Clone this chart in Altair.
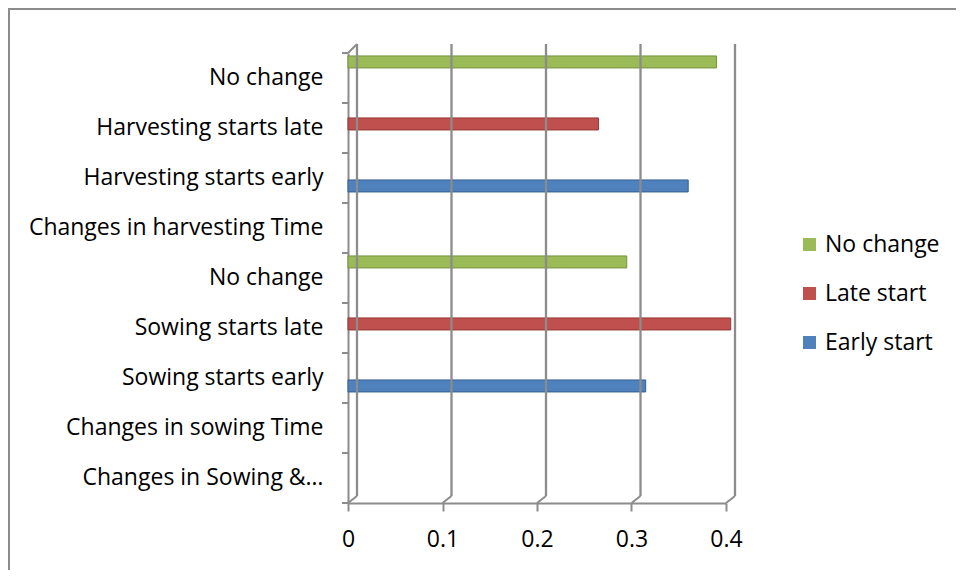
import altair as alt
import pandas as pd

# ---- data ----
categories = [
    "No change|H",
    "Harvesting starts late",
    "Harvesting starts early",
    "Changes in harvesting Time",
    "No change|S",
    "Sowing starts late",
    "Sowing starts early",
    "Changes in sowing Time",
    "Changes in Sowing &…",
]
bar_cats = ["No change|H", "Harvesting starts late", "Harvesting starts early",
            "No change|S", "Sowing starts late", "Sowing starts early"]
bar_series = ["No change", "Late start", "Early start",
              "No change", "Late start", "Early start"]
bar_values = [0.39, 0.265, 0.36, 0.295, 0.405, 0.315]

series_order = ["No change", "Late start", "Early start"]
series_colors = ["#9BBB59", "#C0504D", "#4F81BD"]
series_edges = ["#76923C", "#943634", "#365F91"]
x_ticks = [0, 0.1, 0.2, 0.3, 0.4]

FONT = "Open Sans"
FS = 23
GRAY = "#8C8C8C"
W, H = 378, 450
PAD = {"left": 340, "top": 45, "right": 230, "bottom": 67}

bars_df = pd.DataFrame({"cat": bar_cats, "series": bar_series, "value": bar_values})
ticks_df = pd.DataFrame({"value": x_ticks})
cats_df = pd.DataFrame({"cat": categories})
one = pd.DataFrame({"a": [0]})

xscale = alt.Scale(domain=[0, 0.4], nice=False, zero=True)
yscale = alt.Scale(domain=categories, paddingInner=0, paddingOuter=0)

xaxis = alt.Axis(values=x_ticks, format="~g", title=None, grid=False,
                 domainColor=GRAY, domainWidth=2, tickColor=GRAY,
                 tickWidth=2, tickSize=8, labelPadding=17, labelFlush=False,
                 labelFont=FONT, labelFontSize=FS, labelColor="#000000")
yaxis = alt.Axis(title=None, ticks=False, grid=False, domainColor=GRAY,
                 domainWidth=2, labelPadding=25, labelLimit=400,
                 labelFont=FONT, labelFontSize=FS, labelColor="#000000",
                 labelExpr="split(datum.label, '|')[0]")

X = alt.X("value:Q", scale=xscale, axis=xaxis)

frame = alt.Chart(one).mark_rect(filled=False, stroke=GRAY, strokeWidth=2).encode(
    x=alt.value(-PAD["left"] + 1), x2=alt.value(W + PAD["right"] + 10),
    y=alt.value(-PAD["top"] + 1), y2=alt.value(H + PAD["bottom"] + 10),
)

grid = alt.Chart(ticks_df).mark_rule(color=GRAY, strokeWidth=2.3, xOffset=9).encode(
    x=X, y=alt.value(-9), y2=alt.value(H - 7),
)

diag = alt.Chart(ticks_df).mark_rule(color=GRAY, strokeWidth=2, x2Offset=9).encode(
    x=X, x2="value:Q", y=alt.value(H), y2=alt.value(H - 7),
)

topdiag = alt.Chart(one).mark_rule(color=GRAY, strokeWidth=2).encode(
    x=alt.value(0), x2=alt.value(9), y=alt.value(0), y2=alt.value(-9),
)

yticks = alt.Chart(cats_df).mark_rule(color=GRAY, strokeWidth=2).encode(
    y=alt.Y("cat:N", scale=yscale, bandPosition=0, axis=yaxis),
    x=alt.value(-6), x2=alt.value(0),
)
ybottom = alt.Chart(one).mark_rule(color=GRAY, strokeWidth=2).encode(
    y=alt.value(H), x=alt.value(-6), x2=alt.value(0),
)

bars = alt.Chart(bars_df).mark_bar(strokeWidth=1).encode(
    x=X,
    y=alt.Y("cat:N", scale=yscale, axis=yaxis),
    yOffset=alt.YOffset("series:N",
                        scale=alt.Scale(domain=series_order, paddingInner=0,
                                        paddingOuter=0.583, align=0.21)),
    color=alt.Color("series:N",
                    scale=alt.Scale(domain=series_order, range=series_colors),
                    legend=alt.Legend(title=None, orient="none", legendX=450, legendY=180,
                                      symbolType="square", symbolSize=169,
                                      symbolStrokeWidth=0, labelFont=FONT,
                                      labelFontSize=FS, labelColor="#000000",
                                      rowPadding=25, labelOffset=4)),
    stroke=alt.Stroke("series:N",
                      scale=alt.Scale(domain=series_order, range=series_edges),
                      legend=None),
)

chart = alt.layer(bars, frame, grid, diag, topdiag, yticks, ybottom).properties(
    width=W, height=H, autosize=alt.AutoSizeParams(type="none"), padding=PAD,
).configure(background="white", view=alt.ViewConfig(stroke=None))

chart.save("out.html", embed_options={"renderer": "svg", "actions": False})
